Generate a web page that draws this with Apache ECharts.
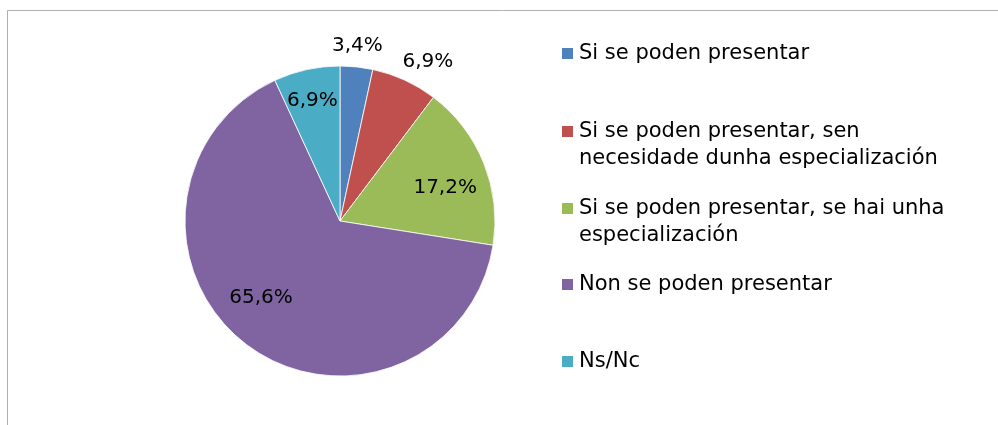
<!DOCTYPE html>
<html>
<head>
<meta charset="utf-8">
<script src="https://cdn.jsdelivr.net/npm/echarts@6/dist/echarts.min.js"></script>
<style>
html,body{margin:0;padding:0;background:#fff;}
#chart{width:998px;height:425px;}
</style>
</head>
<body>
<div id="chart"></div>
<script>
const categories = [
  'Si se poden presentar',
  'Si se poden presentar, sen\nnecesidade dunha especialización',
  'Si se poden presentar, se hai unha\nespecialización',
  'Non se poden presentar',
  'Ns/Nc'
];
const values = [3.4, 6.9, 17.2, 65.6, 6.9];
const outsideLabelIdx = [0, 1];

const colors = ['#4F81BD', '#C0504D', '#9BBB59', '#8064A2', '#4BACC6'];
const labelNudge = [[-2, 6], [12, 6], [-1, 10], [-10, -15], [-3, -8]];
const FONT = 'DejaVu Sans';

const chart = echarts.init(document.getElementById('chart'), null, {renderer: 'canvas'});

const pieData = categories.map((c, i) => ({name: c, value: values[i], itemStyle: {color: colors[i]}}));
const fmt = p => p.value.toFixed(1).replace('.', ',') + '%';

function labelData(showFn) {
  return categories.map((c, i) => ({
    name: c, value: values[i],
    itemStyle: {color: 'rgba(0,0,0,0)'},
    label: {show: showFn(i)}
  }));
}

const legendTops = [40, 91, 168, 271, 348];
const legends = categories.map((c, i) => ({
  data: [c],
  orient: 'vertical',
  left: 560,
  top: legendTops[i],
  padding: 0,
  itemWidth: 13,
  itemHeight: 13,
  itemGap: 0,
  icon: 'rect',
  selectedMode: false,
  formatter: name => (name.indexOf('\n') >= 0 ? '\n' + name : name),
  textStyle: {fontFamily: FONT, fontSize: 21, color: '#000', lineHeight: 27}
}));

const common = {
  type: 'pie', center: [340, 221], startAngle: 90, clockwise: true,
  animation: false, silent: true, avoidLabelOverlap: false
};
const labelLayout = p => ({dx: labelNudge[p.dataIndex][0], dy: labelNudge[p.dataIndex][1]});

chart.setOption({
  backgroundColor: '#fff',
  animation: false,
  graphic: [{
    type: 'rect', shape: {x: 7.5, y: 10.5, width: 1000, height: 430},
    style: {fill: 'none', stroke: '#b0b0b0', lineWidth: 1}, silent: true
  }],
  legend: legends,
  series: [
    Object.assign({}, common, {
      name: 'main', radius: 155,
      data: pieData,
      itemStyle: {borderColor: '#fff', borderWidth: 0.8},
      label: {show: false}, labelLine: {show: false}
    }),
    Object.assign({}, common, {
      name: 'inLabels', radius: [68, 155],
      data: labelData(i => outsideLabelIdx.indexOf(i) < 0),
      label: {position: 'inside', formatter: fmt, color: '#000', fontFamily: FONT, fontSize: 20},
      labelLine: {show: false},
      labelLayout: labelLayout
    }),
    Object.assign({}, common, {
      name: 'outLabels', radius: [168, 190],
      data: labelData(i => outsideLabelIdx.indexOf(i) >= 0),
      label: {position: 'inside', formatter: fmt, color: '#000', fontFamily: FONT, fontSize: 20},
      labelLine: {show: false},
      labelLayout: labelLayout
    })
  ]
});
</script>
</body>
</html>
